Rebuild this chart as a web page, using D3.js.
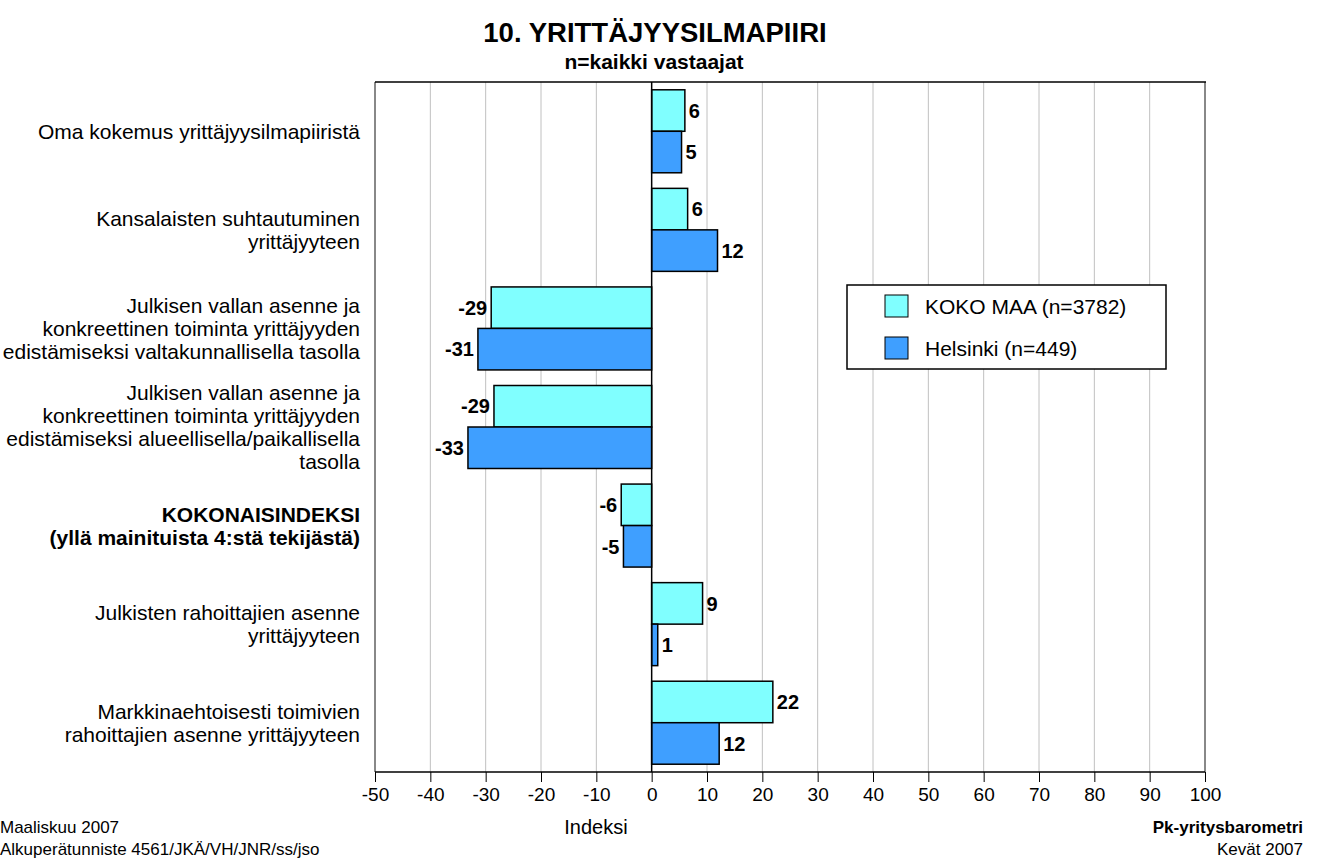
<!DOCTYPE html>
<html>
<head>
<meta charset="utf-8">
<script src="https://cdn.jsdelivr.net/npm/d3@7"></script>
<style>
  body { margin: 0; background: #fff; }
  text { font-family: Arial, "Liberation Sans", sans-serif; }
</style>
</head>
<body>
<svg id="chart" width="1320" height="858"></svg>
<script>
// categories, each one is a list of lines
const categories = [
  ["Oma kokemus yrittäjyysilmapiiristä"],
  ["Kansalaisten suhtautuminen", "yrittäjyyteen"],
  ["Julkisen vallan asenne ja", "konkreettinen toiminta yrittäjyyden", "edistämiseksi valtakunnallisella tasolla"],
  ["Julkisen vallan asenne ja", "konkreettinen toiminta yrittäjyyden", "edistämiseksi alueellisella/paikallisella", "tasolla"],
  ["KOKONAISINDEKSI", "(yllä mainituista 4:stä tekijästä)"],
  ["Julkisten rahoittajien asenne", "yrittäjyyteen"],
  ["Markkinaehtoisesti toimivien", "rahoittajien asenne yrittäjyyteen"]
];
const boldCat = [false, false, false, false, true, false, false];
const kokoMaa = [6.0, 6.5, -29.0, -28.5, -5.5, 9.2, 21.9];
const helsinki = [5.4, 11.9, -31.4, -33.2, -5.1, 1.1, 12.2];
const kokoLabels = ["6", "6", "-29", "-29", "-6", "9", "22"];
const helLabels = ["5", "12", "-31", "-33", "-5", "1", "12"];
const seriesNames = ["KOKO MAA (n=3782)", "Helsinki (n=449)"];
const xTicks = [-50, -40, -30, -20, -10, 0, 10, 20, 30, 40, 50, 60, 70, 80, 90, 100];

const colors = ["#80FFFF", "#3F9FFF"];
const svg = d3.select("#chart");
const pLeft = 375, pRight = 1205, pTop = 82, pBottom = 772;

const x = d3.scaleLinear().domain([-50, 100]).range([pLeft, pRight]);
const y = d3.scaleBand().domain(d3.range(categories.length)).range([pTop, pBottom]).paddingInner(0.158).paddingOuter(0.079);

//gridlines
svg.append("g").selectAll("line")
  .data(xTicks.filter(d => d != 0 && d != -50 && d != 100))
  .enter().append("line")
    .attr("x1", d => x(d)).attr("x2", d => x(d))
    .attr("y1", pTop).attr("y2", pBottom)
    .attr("stroke", "#c0c0c0").attr("stroke-width", 1);

// plot frame
svg.append("line").attr("x1", pLeft).attr("x2", pLeft).attr("y1", pTop).attr("y2", pBottom)
  .attr("stroke", "#888").attr("stroke-width", 2);
svg.append("line").attr("x1", pRight).attr("x2", pRight).attr("y1", pTop).attr("y2", pBottom)
  .attr("stroke", "#888").attr("stroke-width", 2);
svg.append("line").attr("x1", pLeft).attr("x2", pRight + 1).attr("y1", pTop).attr("y2", pTop)
  .attr("stroke", "#000").attr("stroke-width", 1.5);

// bars
const series = [kokoMaa, helsinki];
const labels = [kokoLabels, helLabels];
const bh = y.bandwidth() / 2;
series.forEach(function(vals, s) {
  svg.append("g").selectAll("rect")
    .data(vals)
    .enter().append("rect")
      .attr("x", d => x(Math.min(0, d)))
      .attr("y", (d, i) => y(i) + s * bh)
      .attr("width", d => Math.abs(x(d) - x(0)))
      .attr("height", bh)
      .attr("fill", colors[s])
      .attr("stroke", "#000")
      .attr("stroke-width", 1.5);
  svg.append("g").selectAll("text")
    .data(vals)
    .enter().append("text")
      .attr("x", d => d >= 0 ? x(d) + 4 : x(d) - 4)
      .attr("y", (d, i) => y(i) + s * bh + bh / 2)
      .attr("dy", "0.36em")
      .attr("text-anchor", d => d >= 0 ? "start" : "end")
      .attr("font-size", 20).attr("font-weight", "bold")
      .text((d, i) => labels[s][i]);
});

// zero line
svg.append("line").attr("x1", x(0)).attr("x2", x(0)).attr("y1", pTop).attr("y2", pBottom)
  .attr("stroke", "#000").attr("stroke-width", 1.5);

// x axis, plain hyphen for the minus sign
const xAxis = d3.axisBottom(x).tickValues(xTicks).tickSize(10).tickPadding(6).tickFormat(d => String(d));
const ax = svg.append("g").attr("transform", "translate(0," + pBottom + ")").call(xAxis);
ax.select(".domain").attr("stroke-width", 1.5).attr("d", "M" + pLeft + ",0H" + pRight);
ax.selectAll("text").attr("font-size", 19).attr("fill", "#000").attr("font-family", "Arial, 'Liberation Sans', sans-serif");

// category labels
const lineH = 23;
categories.forEach(function(lines, i) {
  const cy = y(i) + y.bandwidth() / 2;
  const t = svg.append("text")
    .attr("text-anchor", "end")
    .attr("font-size", 21)
    .attr("font-weight", boldCat[i] ? "bold" : "normal");
  lines.forEach(function(l, j) {
    t.append("tspan")
      .attr("x", 360)
      .attr("y", cy + (j - (lines.length - 1) / 2) * lineH)
      .attr("dy", "0.36em")
      .text(l);
  });
});

// titles
svg.append("text").attr("x", 655).attr("y", 42).attr("text-anchor", "middle")
  .attr("font-size", 27.5).attr("font-weight", "bold").text("10. YRITTÄJYYSILMAPIIRI");
svg.append("text").attr("x", 654).attr("y", 69).attr("text-anchor", "middle")
  .attr("font-size", 21).attr("font-weight", "bold").text("n=kaikki vastaajat");

// axis title
svg.append("text").attr("x", 596).attr("y", 834).attr("text-anchor", "middle")
  .attr("font-size", 20).text("Indeksi");

// legend
const lg = svg.append("g");
lg.append("rect").attr("x", 847).attr("y", 285).attr("width", 319).attr("height", 84)
  .attr("fill", "#fff").attr("stroke", "#000").attr("stroke-width", 1.5);
seriesNames.forEach(function(n, i) {
  lg.append("rect").attr("x", 885).attr("y", 295 + i * 42).attr("width", 23).attr("height", 22)
    .attr("fill", colors[i]).attr("stroke", "#000").attr("stroke-width", 1);
  lg.append("text").attr("x", 925).attr("y", 306 + i * 42).attr("dy", "0.36em")
    .attr("font-size", 21).text(n);
});

// footers
svg.append("text").attr("x", 0).attr("y", 833).attr("font-size", 17).text("Maaliskuu 2007");
svg.append("text").attr("x", 0).attr("y", 855).attr("font-size", 17).text("Alkuperätunniste 4561/JKÄ/VH/JNR/ss/jso");
svg.append("text").attr("x", 1303).attr("y", 833).attr("text-anchor", "end")
  .attr("font-size", 17).attr("font-weight", "bold").text("Pk-yritysbarometri");
svg.append("text").attr("x", 1303).attr("y", 855).attr("text-anchor", "end")
  .attr("font-size", 17).text("Kevät 2007");
</script>
</body>
</html>
